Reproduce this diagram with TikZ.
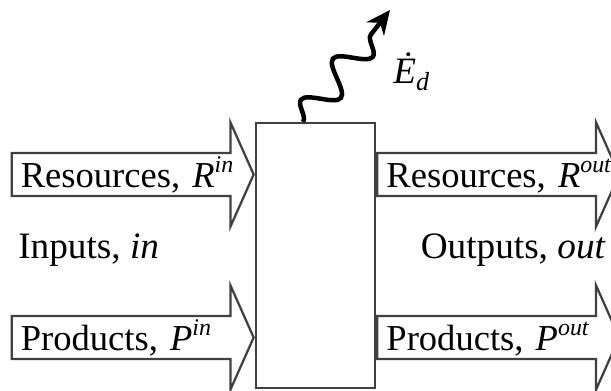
\documentclass[tikz,border=0pt]{standalone}
\usepackage{fontspec}
\setmainfont{Liberation Serif}
\usepackage{tikz}
\usetikzlibrary{shapes.arrows,decorations.pathmorphing,arrows.meta,positioning}
\definecolor{myslate}{RGB}{64,64,64}
\newcommand{\upidx}[1]{\raisebox{0.42em}{\fontsize{17}{17}\selectfont\textit{#1}}}
\tikzstyle{process}=[draw=myslate,line width=1.6pt,fill=white,minimum width=2.975cm,minimum height=6.625cm,inner sep=0pt]
\tikzstyle{flow}=[draw=myslate,line width=1.6pt,single arrow,single arrow tip angle=132,single arrow head extend=0.65cm,minimum width=2.6cm,minimum height=6.05cm,inner xsep=0.05cm,inner ysep=0.1cm,text height=0.66cm,text depth=0pt,text width=5.35cm,align=left,font=\fontsize{26}{30}\selectfont]
\tikzstyle{sidetext}=[inner sep=0pt,font=\fontsize{26.5}{30}\selectfont]

\begin{document}
\begin{tikzpicture}
\useasboundingbox (0,0) rectangle (15.275,9.75);
\node [process] (proc) at (7.8875,3.3625) {};
\node [flow,anchor=tip] (rin) at ([yshift=2.025cm]proc.west) {Resources,~\textit{R}\upidx{in}};
\node [flow,anchor=tip] (pin) at ([yshift=-2.05cm]proc.west) {Products,~\textit{P}\upidx{in}};
\node [flow,anchor=tail] (rout) at ([yshift=2.025cm]proc.east) {Resources,~\textit{R}\upidx{out}};
\node [flow,anchor=tail] (pout) at ([yshift=-2.05cm]proc.east) {Products,~\textit{P}\upidx{out}};
\node [sidetext,anchor=base west] (inputs) at (0.45,3.3) {Inputs, \textit{in}};
\node [sidetext,anchor=base east] (outputs) at (15.15,3.3) {Outputs, \textit{out}};
% exergy destroyed
\coordinate (loss) at (9.75,9.5);
\draw [line width=3.2pt,-{Stealth[length=0.6cm,width=0.55cm]},decorate,decoration={snake,amplitude=0.38cm,segment length=1.3cm,post length=0.35cm}] ([xshift=-0.3125cm]proc.north) -- (loss);
\node [sidetext,anchor=base west] (ed) at (9.825,7.65) {\textit{\.E}\textsubscript{\textit{d}}};
\end{tikzpicture}
\end{document}
